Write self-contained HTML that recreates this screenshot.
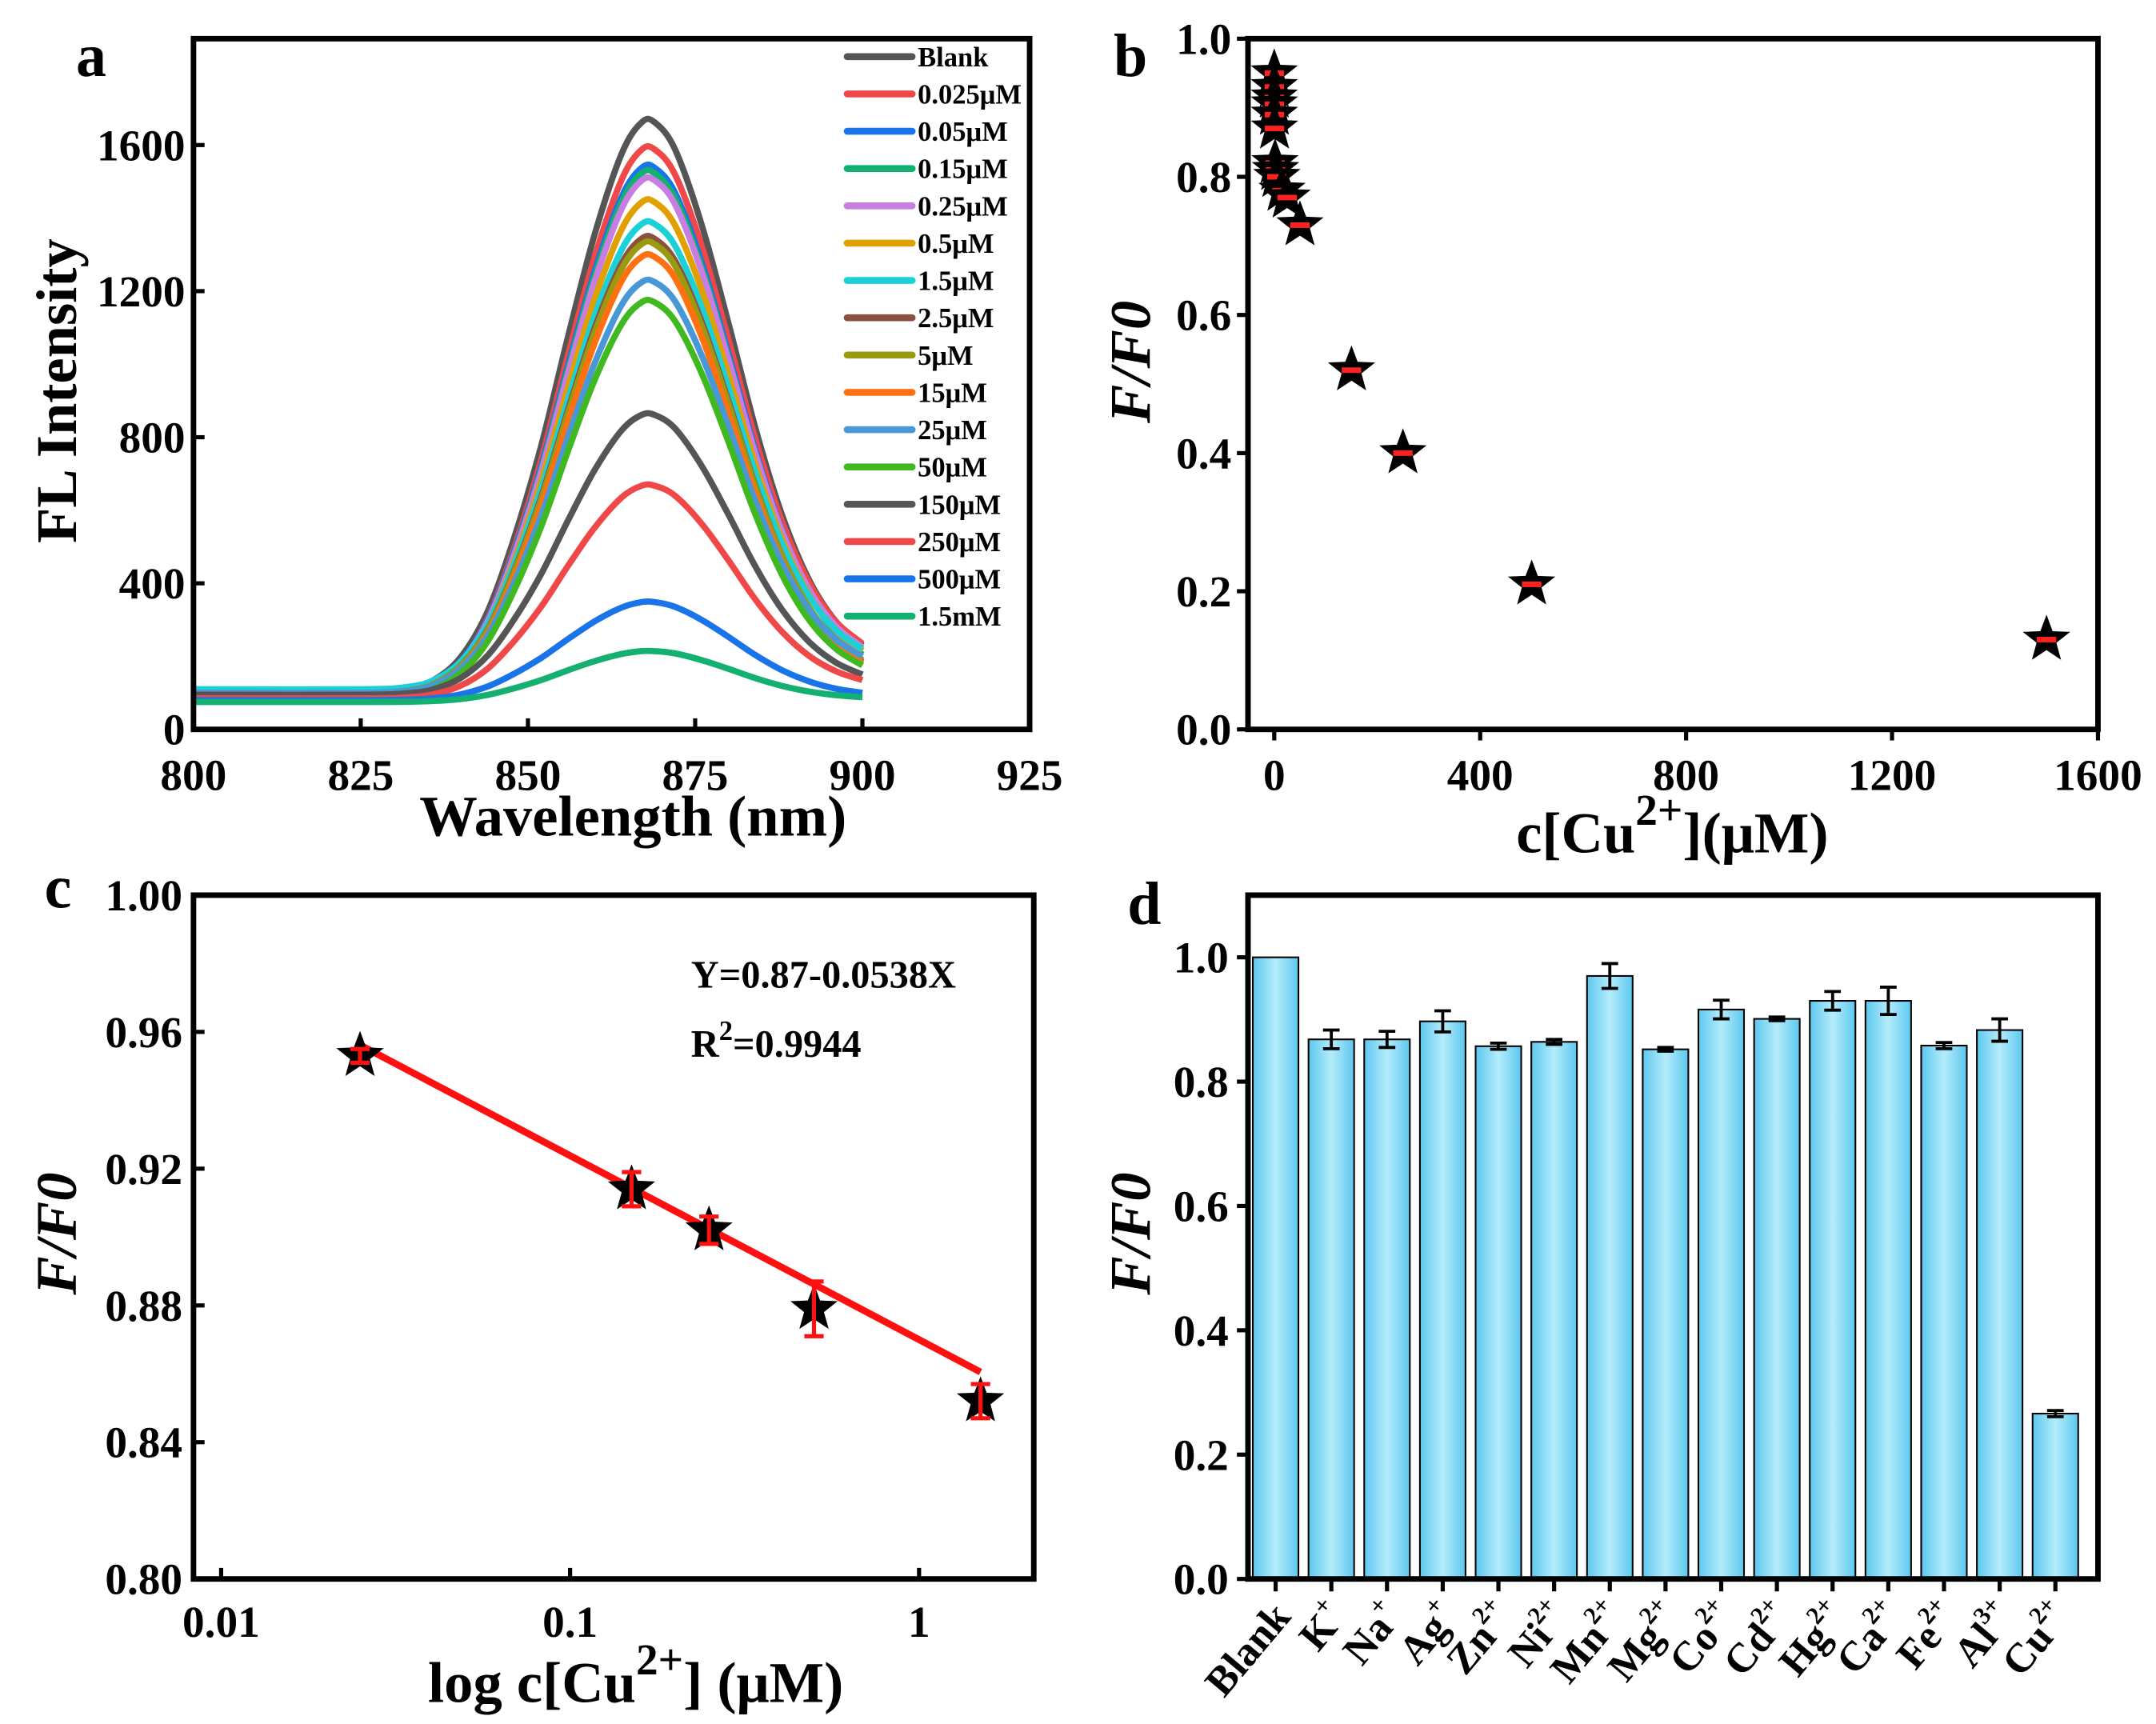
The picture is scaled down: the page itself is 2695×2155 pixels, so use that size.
<!DOCTYPE html>
<html><head><meta charset="utf-8"><style>
html,body{margin:0;padding:0;background:#fff}
svg{display:block}
text{font-family:"Liberation Serif",serif;font-weight:bold;fill:#000}
</style></head><body>
<svg id="fig" xmlns="http://www.w3.org/2000/svg" width="2695" height="2155" viewBox="0 0 1560 1248" preserveAspectRatio="none">
<defs>
<linearGradient id="barg" x1="0" x2="1" y1="0" y2="0">
<stop offset="0" stop-color="#5cc8ee"/><stop offset="0.5" stop-color="#b4ecfb"/><stop offset="1" stop-color="#5cc8ee"/>
</linearGradient>
</defs>
</svg>
<script>
// ---------- Panel a data ----------
const aLabels=["Blank","0.025μM","0.05μM","0.15μM","0.25μM","0.5μM","1.5μM","2.5μM","5μM","15μM","25μM","50μM","150μM","250μM","500μM","1.5mM"];
const aColors=["#555555","#f04848","#1874e8","#14b070","#c87ee0","#e0a000","#1cd0d8","#8a5040","#9a9a10","#ff7010","#4898d8","#40b820","#555555","#f04848","#1874e8","#14b070"];
const aPeaks=[1670,1595,1545,1530,1510,1450,1390,1350,1335,1300,1230,1175,865,670,350,215];
const aBaseLeft=[105,95,100,95,100,100,110,100,100,95,100,90,95,85,80,75];
const aEndRight=[230,235,215,205,225,215,220,185,190,180,200,175,150,135,100,88];
// normalized peak profile (wavelength, relative height)
const aShapeX=[800,825,832,836,840,844,848,852,856,860,864,867,869,872,876,880,884,888,892,896,900];
const aShapeY=[0,0,0.005,0.02,0.06,0.14,0.27,0.43,0.62,0.8,0.94,0.995,0.995,0.95,0.82,0.65,0.47,0.32,0.21,0.14,0.1];
const aXTicks=[800,825,850,875,900,925];
const aYTicks=[0,400,800,1200,1600];
// ---------- Panel b data ----------
const bConc=[0,0.025,0.05,0.15,0.25,0.5,1.5,2.5,5,15,25,50,150,250,500,1500];
const bRatio=[0.95,0.93,0.915,0.905,0.89,0.87,0.82,0.81,0.80,0.78,0.77,0.73,0.52,0.40,0.21,0.13];
const bXTicks=[0,400,800,1200,1600];
const bYTicks=[0,0.2,0.4,0.6,0.8,1.0];
// ---------- Panel c data ----------
const cConc=[0.025,0.15,0.25,0.5,1.5];
const cRatio=[0.953,0.914,0.902,0.879,0.852];
const cErr=[0.002,0.005,0.004,0.008,0.005];
const cFit=[0.87,-0.0538];
const cXTicks=[0.01,0.1,1];
const cYTicks=[0.80,0.84,0.88,0.92,0.96,1.00];
// ---------- Panel d data ----------
const dIons=[["Blank",""],["K","+"],["Na","+"],["Ag","+"],["Zn","2+"],["Ni","2+"],["Mn","2+"],["Mg","2+"],["Co","2+"],["Cd","2+"],["Hg","2+"],["Ca","2+"],["Fe","2+"],["Al","3+"],["Cu","2+"]];
const dVals=[1.0,0.868,0.868,0.897,0.857,0.864,0.97,0.852,0.916,0.901,0.93,0.93,0.858,0.883,0.266];
const dErr=[0,0.015,0.013,0.017,0.005,0.004,0.02,0.003,0.015,0.003,0.015,0.022,0.005,0.018,0.005];
const dYTicks=[0,0.2,0.4,0.6,0.8,1.0];

const svg=document.getElementById('fig');
const NS="http://www.w3.org/2000/svg";
const TF=32, AF=42;
function mk(tag,attrs,parent){const e=document.createElementNS(NS,tag);for(const k in attrs)e.setAttribute(k,attrs[k]);(parent||svg).appendChild(e);return e;}
function txt(s,x,y,size,anchor,parent,extra){const t=mk('text',Object.assign({x:x,y:y,'font-size':size,'text-anchor':anchor||'middle'},extra||{}),parent);t.textContent=s;return t;}
function lin(d0,d1,r0,r1){return v=>r0+(v-d0)*(r1-r0)/(d1-d0);}
function box(g,l,t,r,b){mk('rect',{x:l,y:t,width:r-l,height:b-t,fill:'none',stroke:'#000','stroke-width':4},g);}
function starPath(cx,cy,R){const r=R*0.42;let d='';for(let i=0;i<10;i++){const a=-Math.PI/2+i*Math.PI/5;const rr=i%2?r:R;d+=(i?'L':'M')+(cx+rr*Math.cos(a)).toFixed(1)+','+(cy+rr*Math.sin(a)).toFixed(1);}return d+'Z';}
function smooth(pts){let d='M'+pts[0][0].toFixed(1)+','+pts[0][1].toFixed(1);
 for(let i=0;i<pts.length-1;i++){const p0=pts[Math.max(0,i-1)],p1=pts[i],p2=pts[i+1],p3=pts[Math.min(pts.length-1,i+2)];
  const c1=[p1[0]+(p2[0]-p0[0])/6,p1[1]+(p2[1]-p0[1])/6],c2=[p2[0]-(p3[0]-p1[0])/6,p2[1]-(p3[1]-p1[1])/6];
  d+='C'+c1[0].toFixed(1)+','+c1[1].toFixed(1)+' '+c2[0].toFixed(1)+','+c2[1].toFixed(1)+' '+p2[0].toFixed(1)+','+p2[1].toFixed(1);}
 return d;}

// ===== Panel a =====
(function(){
const g=mk('g',{});


const L=140,T=28,R=745,B=528;
const X=lin(800,925,L,R),Y=lin(0,1600,B,105);
const lab=txt('a',66,55,44,'middle',g);

for(let s=0;s<aPeaks.length;s++){
 const pts=[];
 for(let i=0;i<aShapeX.length;i++){
  const w=aShapeX[i];
  const baseline=aBaseLeft[s]+(aEndRight[s]-aBaseLeft[s]-(aPeaks[s]-aBaseLeft[s])*0.1)*Math.max(0,(w-868)/32);
  const v=baseline+(aPeaks[s]-aBaseLeft[s])*aShapeY[i];
  pts.push([X(w),Y(v)]);
 }
 const p=mk('path',{d:smooth(pts),fill:'none',stroke:aColors[s],'stroke-width':4.5,'stroke-linejoin':'round'},g);
 
 
}
box(g,L,T,R,B);
aXTicks.forEach(v=>{mk('line',{x1:X(v),x2:X(v),y1:B,y2:B-8,stroke:'#000','stroke-width':3},g);const t=txt(String(v),X(v),B+44,TF,'middle',g);});
aYTicks.forEach(v=>{mk('line',{x1:L,x2:L+8,y1:Y(v),y2:Y(v),stroke:'#000','stroke-width':3},g);const t=txt(String(v),L-6,Y(v)+11,TF,'end',g);});
const xt=txt('Wavelength (nm)',458,605,AF,'middle',g);
const yt=txt('FL Intensity',55,283,AF,'middle',g,{transform:'rotate(-90 55 283)'});
aLabels.forEach((s,i)=>{const y=41+i*27;
 const le=mk('g',{},g);
 
 
 mk('line',{x1:613,x2:660,y1:y,y2:y,stroke:aColors[i],'stroke-width':5,'stroke-linecap':'round'},le);
 txt(s,664,y+7,20,'start',le);});
})();

// ===== Panel b =====
(function(){
const g=mk('g',{});


const L=903,T=28,R=1518,B=528;
const X=lin(0,1600,922,1518),Y=lin(0,1,B,T);
const lab=txt('b',818,55,44,'middle',g);
box(g,L,T,R,B);
bXTicks.forEach(v=>{mk('line',{x1:X(v),x2:X(v),y1:B,y2:B+8,stroke:'#000','stroke-width':3},g);const t=txt(String(v),X(v),B+44,TF,'middle',g);});
bYTicks.forEach(v=>{mk('line',{x1:L,x2:L-8,y1:Y(v),y2:Y(v),stroke:'#000','stroke-width':3},g);const t=txt(v.toFixed(1),L-12,Y(v)+11,TF,'end',g);});
for(let i=0;i<bConc.length;i++){
 const cx=X(bConc[i]),cy=Y(bRatio[i]);
 const s=mk('path',{d:starPath(cx,cy,18),fill:'#000'},g);
 
 
 mk('rect',{x:cx-7,y:cy-2,width:14,height:4,fill:'#ff2020'},g);
}
const xt=mk('text',{x:1210,y:617,'font-size':AF,'text-anchor':'middle'},g);

xt.innerHTML='c[Cu<tspan font-size="32" dy="-20">2+</tspan><tspan dy="20">](μM)</tspan>';
const yt=txt('F/F0',832,262,AF,'middle',g,{transform:'rotate(-90 832 262)','font-style':'italic'});
})();

// ===== Panel c =====
(function(){
const g=mk('g',{});


const L=140,T=648,R=748,B=1143;
const LX=lin(-2,0,160,665),X=v=>LX(Math.log10(v)),Y=lin(0.8,1.0,B,T);
const lab=txt('c',42,657,44,'middle',g);
box(g,L,T,R,B);
cXTicks.forEach(v=>{mk('line',{x1:X(v),x2:X(v),y1:B,y2:B-8,stroke:'#000','stroke-width':3},g);const t=txt(String(v),X(v),B+42,TF,'middle',g);});
cYTicks.forEach(v=>{mk('line',{x1:L,x2:L+8,y1:Y(v),y2:Y(v),stroke:'#000','stroke-width':3},g);const t=txt(v.toFixed(2),L-8,Y(v)+11,TF,'end',g);});
const x0=cConc[0],x1=cConc[cConc.length-1];
const fl=mk('line',{x1:X(x0),y1:Y(cFit[0]+cFit[1]*Math.log10(x0)),x2:X(x1),y2:Y(cFit[0]+cFit[1]*Math.log10(x1)),stroke:'#ff1010','stroke-width':5},g);

for(let i=0;i<cConc.length;i++){
 const cx=X(cConc[i]),cy=Y(cRatio[i]);
 const s=mk('path',{d:starPath(cx,cy,18),fill:'#000'},g);
 
 
 const e1=Y(cRatio[i]+cErr[i]),e2=Y(cRatio[i]-cErr[i]);
 mk('path',{d:`M${cx},${e1}V${e2}M${cx-7},${e1}H${cx+7}M${cx-7},${e2}H${cx+7}`,stroke:'#ff1010','stroke-width':3,fill:'none'},g);
}
const eq=txt('Y=0.87-0.0538X',500,715,28,'start',g);
const r2=mk('text',{x:500,y:765,'font-size':28,'text-anchor':'start'},g);

r2.innerHTML='R<tspan font-size="20" dy="-12">2</tspan><tspan dy="12">=0.9944</tspan>';
const xt=mk('text',{x:460,y:1232,'font-size':AF,'text-anchor':'middle'},g);

xt.innerHTML='log c[Cu<tspan font-size="32" dy="-20">2+</tspan><tspan dy="20">] (μM)</tspan>';
const yt=txt('F/F0',55,893,AF,'middle',g,{transform:'rotate(-90 55 893)','font-style':'italic'});
})();

// ===== Panel d =====
(function(){
const g=mk('g',{});


const L=903,T=648,R=1518,B=1143;
const Y=lin(0,1.1,B,T);
const X=i=>923+i*40.3;
const lab=txt('d',828,669,44,'middle',g);
for(let i=0;i<dVals.length;i++){
 const cx=X(i),y=Y(dVals[i]);
 const b=mk('rect',{x:cx-16.5,y:y,width:33,height:B-y,fill:'url(#barg)',stroke:'#000','stroke-width':1.2},g);
 
 
 if(dErr[i]>0){const e1=Y(dVals[i]+dErr[i]),e2=Y(dVals[i]-dErr[i]);
  mk('path',{d:`M${cx},${e1}V${e2}M${cx-6},${e1}H${cx+6}M${cx-6},${e2}H${cx+6}`,stroke:'#000','stroke-width':2.2,fill:'none'},g);}
 mk('line',{x1:cx,x2:cx,y1:B,y2:B+9,stroke:'#000','stroke-width':3},g);
 const lt=mk('text',{x:0,y:0,'font-size':30,'text-anchor':'end',transform:`translate(${cx+12},${B+28}) rotate(-50)`},g);
 
 
 lt.textContent=dIons[i][0];
 if(dIons[i][1]){const sp=mk('tspan',{'font-size':18,dy:-14},lt);sp.textContent=dIons[i][1];}
}
box(g,L,T,R,B);
dYTicks.forEach(v=>{mk('line',{x1:L,x2:L-8,y1:Y(v),y2:Y(v),stroke:'#000','stroke-width':3},g);const t=txt(v.toFixed(1),L-14,Y(v)+11,TF,'end',g);});
const yt=txt('F/F0',832,893,AF,'middle',g,{transform:'rotate(-90 832 893)','font-style':'italic'});
})();
</script>
</body></html>
